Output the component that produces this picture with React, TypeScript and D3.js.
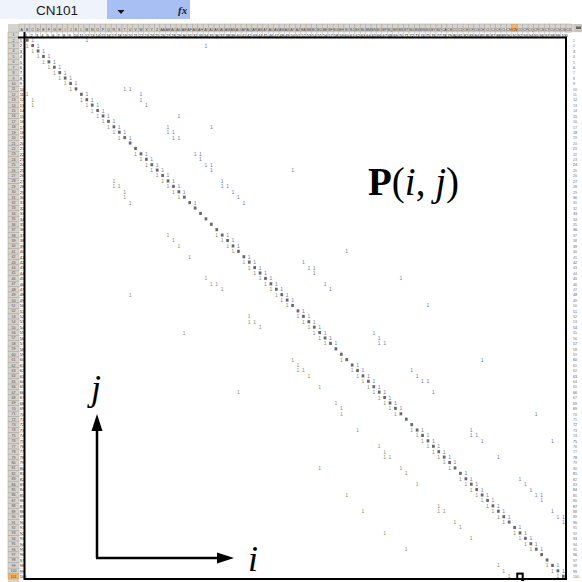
import React from 'react';
import * as d3 from 'd3';

// 100 grid-world states laid out on a 10 x 10 lattice
const STATES: number[] = d3.range(1, 101);
const LATTICE_WIDTH = 10;

// states that only transition to themselves
const ABSORBING: number[] = [20, 21, 32, 33, 34, 35, 36, 58, 59, 71, 72, 96, 97];

// moves to the lattice row below (j ≈ i + 10)
const UPPER_BAND: [number, number][] = [
  [1, 12], [10, 19], [10, 20], [11, 22], [12, 22], [13, 23], [17, 27], [18, 27], [18, 28],
  [19, 28], [19, 29], [22, 32], [22, 33], [23, 33], [24, 34], [24, 35], [25, 35], [27, 37],
  [28, 37], [28, 38], [29, 39], [30, 40], [31, 41], [42, 52], [43, 53], [43, 54], [44, 54],
  [46, 56], [47, 57], [55, 65], [56, 66], [57, 66], [57, 67], [62, 72], [63, 73], [64, 74],
  [64, 75], [66, 76], [73, 83], [74, 83], [74, 84], [75, 85], [78, 88], [82, 92], [83, 93],
  [84, 94], [85, 95], [85, 96], [86, 96], [88, 98], [89, 99], [89, 100], [90, 100],
];

// moves to the lattice row above (j ≈ i - 10)
const LOWER_BAND: [number, number][] = [
  [11, 1], [12, 2], [13, 2], [27, 17], [28, 17], [28, 18], [29, 19], [30, 19], [31, 20],
  [37, 27], [38, 28], [39, 29], [41, 31], [45, 34], [46, 35], [46, 36], [47, 37], [52, 42],
  [53, 42], [53, 43], [54, 44], [60, 50], [61, 51], [62, 51], [62, 52], [63, 53], [65, 55],
  [68, 58], [69, 59], [70, 59], [73, 62], [76, 66], [77, 67], [78, 67], [78, 68], [80, 70],
  [81, 71], [83, 73], [87, 77], [88, 77], [88, 78], [90, 80], [91, 81], [93, 83], [98, 88],
  [99, 89], [100, 90],
];

// long-range jumps
const SCATTER: [number, number][] = [
  [2, 34], [17, 35], [34, 53], [34, 64], [35, 66], [33, 42], [36, 16], [34, 25], [15, 29],
  [33, 3], [48, 20], [55, 30], [60, 85], [45, 70], [66, 40], [70, 95], [80, 55], [85, 60],
  [88, 63], [92, 67], [50, 75], [25, 50], [40, 60], [75, 98], [95, 71],
];

function columnName(n: number): string {
  let s = '';
  while (n > 0) {
    const m = (n - 1) % 26;
    s = String.fromCharCode(65 + m) + s;
    n = Math.floor((n - 1) / 26);
  }
  return s;
}

type Entry = { i: number; j: number; v: number };

function buildEntries(): Entry[] {
  const out: Entry[] = [];
  const absorbing = new Set(ABSORBING);
  STATES.forEach((i) => {
    out.push({ i, j: i, v: 1 });
    if (absorbing.has(i)) return;
    if ((i - 1) % LATTICE_WIDTH !== 0) out.push({ i, j: i - 1, v: 1 });
    if (i % LATTICE_WIDTH !== 0) out.push({ i, j: i + 1, v: 1 });
  });
  [...UPPER_BAND, ...LOWER_BAND, ...SCATTER].forEach(([i, j]) => {
    if (!absorbing.has(i)) out.push({ i, j, v: 1 });
  });
  return out;
}

const W = 582;
const H = 582;
const GX0 = 24.5;
const GX1 = 566;
const GY0 = 37.5;
const GY1 = 579;
const GRAY = '#d6d3ce';
const GRAY_LINE = '#a9a59c';
const SERIF = "'Liberation Serif', 'Times New Roman', serif";

export default function App() {
  const x = d3.scaleBand<number>().domain(STATES).range([GX0, GX1]);
  const y = d3.scaleBand<number>().domain(STATES).range([GY0, GY1]);
  const cs = x.bandwidth();
  const entries = buildEntries();
  const colA0 = GX0 - cs;
  const row1Y0 = GY0 - cs;
  const headY0 = 24;
  const activeCol = 91; // column CN holds state 91
  const activeRow = 100; // sheet row 101

  const allCols = d3.range(0, 102); // A .. CX

  return (
    <svg
      width={W}
      height={H}
      style={{ position: 'absolute', left: 0, top: 0, background: '#fff' }}
      fontFamily="Arial, 'Liberation Sans', sans-serif"
    >
      {/* formula bar */}
      <rect x={0} y={0} width={W} height={20} fill="#fff" />
      <rect x={0} y={0} width={107} height={19} fill="#eef3fc" />
      <text x={36} y={15} fontSize={13.5} fill="#1a1a1a">CN101</text>
      <rect x={107} y={0} width={83} height={19} fill="#a7bff3" />
      <path d="M117.5,10 L124.5,10 L121,14 Z" fill="#111" />
      <text x={178} y={14} fontSize={11} fontStyle="italic" fontWeight="bold" fontFamily={SERIF} fill="#222">fx</text>

      {/* column headers */}
      <rect x={8} y={headY0} width={W - 8} height={row1Y0 - headY0} fill={GRAY} />
      <rect x={8} y={headY0} width={colA0 - 8} height={GY1 - headY0 + 3} fill={GRAY} />
      {allCols.map((c) => {
        const cx0 = colA0 + c * cs;
        if (cx0 > W) return null;
        const active = c === activeCol;
        return (
          <g key={'ch' + c}>
            <rect x={cx0} y={headY0} width={cs} height={row1Y0 - headY0} fill={active ? '#f3b45c' : GRAY} stroke={GRAY_LINE} strokeWidth={0.5} />
            <text x={cx0 + cs / 2} y={row1Y0 - 1.5} fontSize={3.6} textAnchor="middle" fill={active ? '#223' : '#3a3a3a'}>
              {columnName(c + 1)}
            </text>
          </g>
        );
      })}
      <rect x={574} y={headY0} width={8} height={row1Y0 - headY0} fill="#c9c6c0" />
      <rect x={576} y={headY0 + 2.5} width={5} height={2.5} fill="#666" />

      {/* row headers */}
      {[0, ...STATES].map((r) => {
        const ry0 = row1Y0 + r * cs;
        const active = r === activeRow;
        return (
          <g key={'rh' + r}>
            <rect x={8} y={ry0} width={colA0 - 8} height={cs} fill={active ? '#f3b45c' : GRAY} stroke={GRAY_LINE} strokeWidth={0.5} />
            <text x={13.5} y={ry0 + cs - 1.3} fontSize={3.6} textAnchor="middle" fill="#4a4a4a">{r + 1}</text>
          </g>
        );
      })}

      {/* row 1: state indices across the top */}
      <rect x={colA0} y={row1Y0} width={GX1 - colA0} height={cs} fill="#fff" />
      {STATES.map((s) => (
        <g key={'r1' + s}>
          <rect x={x(s)!} y={row1Y0} width={cs} height={cs} fill="none" stroke="#c8c8c8" strokeWidth={0.5} />
          <text x={x(s)! + 0.6} y={row1Y0 + cs - 1} fontSize={4} fill="#000">{s}</text>
        </g>
      ))}

      {/* column A: state indices down the side */}
      {STATES.map((s) => (
        <g key={'ca' + s}>
          <rect x={colA0} y={y(s)!} width={cs} height={cs} fill="#fff" stroke="#c8c8c8" strokeWidth={0.5} />
          <text x={colA0 + 0.6} y={y(s)! + cs - 1} fontSize={4} fill="#000">{s}</text>
        </g>
      ))}

      {/* right-hand column of labels */}
      {STATES.map((s) => (
        <text key={'rc' + s} x={573} y={y(s)! + cs - 1} fontSize={3.6} fill={s % 3 === 0 ? '#3a4f9a' : s % 3 === 1 ? '#8a6a4a' : '#7a6f8a'}>
          {s}
        </text>
      ))}

      {/* transition entries */}
      {entries.map((e, k) =>
        e.i === e.j ? (
          <rect key={'e' + k} x={x(e.j)! + 1.4} y={y(e.i)! + 1.1} width={2.7} height={3.1} fill="#686868" />
        ) : (
          <text
            key={'e' + k}
            x={x(e.j)! + cs / 2}
            y={y(e.i)! + cs - 0.8}
            fontSize={5}
            textAnchor="middle"
            fill={e.j > e.i ? '#7078bc' : '#948a68'}
          >
            {e.v}
          </text>
        ),
      )}

      {/* sheet block border */}
      <rect x={GX0} y={GY0} width={GX1 - GX0} height={GY1 - GY0} fill="none" stroke="#000" strokeWidth={2} />
      <line x1={colA0 - 1} y1={GY0} x2={GX0} y2={GY0} stroke="#000" strokeWidth={2} />
      <line x1={GX0} y1={row1Y0} x2={GX0} y2={GY0} stroke="#000" strokeWidth={2} />

      {/* active cell */}
      <rect x={x(activeCol + 1)!} y={y(activeRow)!} width={cs} height={cs} fill="none" stroke="#000" strokeWidth={2} />
      <rect x={x(activeCol + 1)! + cs - 1.5} y={GY1 - 1} width={3} height={3} fill="#000" />

      {/* annotation */}
      <text x={368} y={195} fontSize={39} fontFamily={SERIF} fill="#000">
        <tspan fontWeight="bold">P</tspan>
        <tspan>(</tspan>
        <tspan fontStyle="italic">i</tspan>
        <tspan>, </tspan>
        <tspan fontStyle="italic">j</tspan>
        <tspan>)</tspan>
      </text>

      {/* axis arrows */}
      <line x1={97} y1={558} x2={97} y2={428} stroke="#000" strokeWidth={2.5} />
      <path d="M97,414 L91.5,431 L102.5,431 Z" fill="#000" />
      <line x1={96} y1={558} x2={220} y2={558} stroke="#000" strokeWidth={2.5} />
      <path d="M234,558 L217,552.5 L217,563.5 Z" fill="#000" />
      <text x={91} y={400} fontSize={36} fontStyle="italic" fontFamily={SERIF} fill="#000">j</text>
      <text x={248} y={571} fontSize={36} fontStyle="italic" fontFamily={SERIF} fill="#000">i</text>
    </svg>
  );
}
